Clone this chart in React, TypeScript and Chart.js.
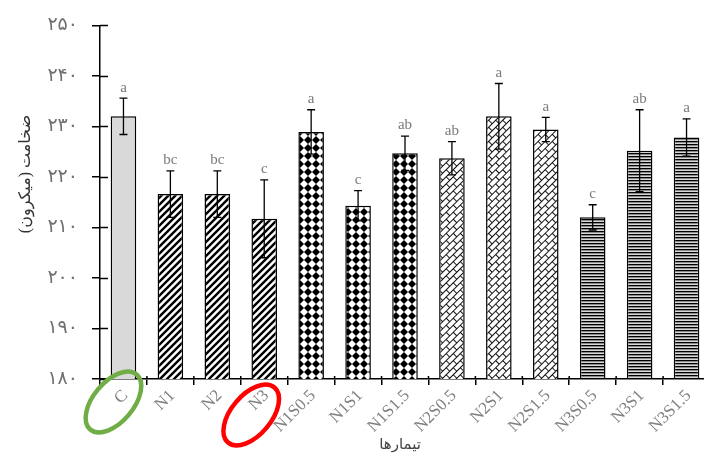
import React, { useEffect, useRef } from 'react';
import { Chart, registerables } from 'chart.js';

Chart.register(...registerables);

const categories = ['C', 'N1', 'N2', 'N3', 'N1S0.5', 'N1S1', 'N1S1.5', 'N2S0.5', 'N2S1', 'N2S1.5', 'N3S0.5', 'N3S1', 'N3S1.5'];
const means = [232.0, 216.6, 216.6, 211.7, 228.9, 214.3, 224.7, 223.7, 232.0, 229.4, 212.0, 225.2, 227.8];
const errors = [3.6, 4.6, 4.6, 7.7, 4.4, 3.0, 3.4, 3.3, 6.5, 2.4, 2.5, 8.1, 3.7];
const letters = ['a', 'bc', 'bc', 'c', 'a', 'c', 'ab', 'ab', 'a', 'a', 'c', 'ab', 'a'];
const patternGroup = [0, 1, 1, 1, 2, 2, 2, 3, 3, 3, 4, 4, 4];
const yMin = 180;
const yMax = 250;
const yStep = 10;
const yTitle = 'ضخامت (میکرون)';
const xTitle = 'تیمارها';
const circledCategories = [
  { index: 0, color: '#70ad47' },
  { index: 3, color: '#ff0000' },
];

const FONT = "'Liberation Serif', 'DejaVu Sans', serif";
const toPersian = (v: number | string) => String(v).replace(/\d/g, (d) => '۰۱۲۳۴۵۶۷۸۹'[Number(d)]);

function makeTile(w: number, h: number, draw: (c: CanvasRenderingContext2D) => void) {
  const cv = document.createElement('canvas');
  cv.width = w;
  cv.height = h;
  const c = cv.getContext('2d')!;
  c.fillStyle = '#ffffff';
  c.fillRect(0, 0, w, h);
  draw(c);
  return cv;
}

function buildFills(ctx: CanvasRenderingContext2D) {
  const solid: any = '#d9d9d9';
  const s = 7;
  const stripes = ctx.createPattern(
    makeTile(s, s, (c) => {
      c.strokeStyle = '#000';
      c.lineWidth = 2.4;
      c.beginPath();
      c.moveTo(-1, s + 1); c.lineTo(s + 1, -1);
      c.moveTo(-1, 1); c.lineTo(1, -1);
      c.moveTo(s - 1, s + 1); c.lineTo(s + 1, s - 1);
      c.stroke();
    }),
    'repeat'
  );
  const d = 8;
  const diamonds = ctx.createPattern(
    makeTile(d, d, (c) => {
      c.fillStyle = '#000';
      const r = 4.0;
      c.beginPath();
      c.moveTo(d / 2, d / 2 - r);
      c.lineTo(d / 2 + r, d / 2);
      c.lineTo(d / 2, d / 2 + r);
      c.lineTo(d / 2 - r, d / 2);
      c.closePath();
      c.fill();
    }),
    'repeat'
  );
  const bw = 10;
  const bh = 10;
  const bricks = ctx.createPattern(
    makeTile(bw, bh, (c) => {
      c.strokeStyle = '#111';
      c.lineWidth = 1;
      c.beginPath();
      c.moveTo(0, 0.5); c.lineTo(bw, 0.5);
      c.moveTo(0, 5.5); c.lineTo(bw, 5.5);
      c.moveTo(0.5, 0); c.lineTo(0.5, 5.5);
      c.moveTo(5.5, 5.5); c.lineTo(5.5, 10);
      c.stroke();
    }),
    'repeat'
  );
  if (bricks && (bricks as any).setTransform) {
    bricks.setTransform(new DOMMatrix().rotate(-45));
  }
  const lines = ctx.createPattern(
    makeTile(4, 3, (c) => {
      c.fillStyle = '#000';
      c.fillRect(0, 0, 4, 1);
      c.fillStyle = '#8a8a8a';
      c.fillRect(0, 1, 4, 1);
      c.fillStyle = '#d8d8d8';
      c.fillRect(0, 2, 4, 1);
    }),
    'repeat'
  );
  return [solid, stripes, diamonds, bricks, lines];
}

const decorPlugin = {
  id: 'decor',
  afterDatasetsDraw(chart: any) {
    const { ctx, chartArea } = chart;
    const x = chart.scales.x;
    const y = chart.scales.y;
    ctx.save();
    ctx.strokeStyle = '#000';
    ctx.lineWidth = 1.3;
    for (let i = 0; i < means.length; i++) {
      const px = x.getPixelForValue(i);
      const top = y.getPixelForValue(means[i] + errors[i]);
      const bot = y.getPixelForValue(means[i] - errors[i]);
      ctx.beginPath();
      ctx.moveTo(px, top); ctx.lineTo(px, bot);
      ctx.moveTo(px - 4, top); ctx.lineTo(px + 4, top);
      ctx.moveTo(px - 4, bot); ctx.lineTo(px + 4, bot);
      ctx.stroke();
      ctx.fillStyle = '#7a7a7a';
      ctx.font = `15px ${FONT}`;
      ctx.textAlign = 'center';
      ctx.textBaseline = 'bottom';
      ctx.fillText(letters[i], px, top - 3);
    }
    ctx.lineWidth = 1.5;
    ctx.beginPath();
    for (let v = yMin; v <= yMax; v += yStep) {
      const py = Math.round(y.getPixelForValue(v)) + 0.5;
      ctx.moveTo(chartArea.left, py);
      ctx.lineTo(chartArea.left + 8, py);
    }
    const cw = (x.right - x.left) / categories.length;
    for (let i = 1; i < categories.length; i++) {
      const bx = x.left + i * cw;
      ctx.moveTo(bx, chartArea.bottom);
      ctx.lineTo(bx, chartArea.bottom - 3);
    }
    ctx.stroke();
    ctx.restore();
  },
  afterDraw(chart: any) {
    const { ctx, chartArea } = chart;
    const x = chart.scales.x;
    const c45 = Math.SQRT1_2;
    ctx.save();
    ctx.font = `17px ${FONT}`;
    ctx.fillStyle = '#808080';
    ctx.textAlign = 'right';
    ctx.textBaseline = 'middle';
    categories.forEach((lab, i) => {
      const px = x.getPixelForValue(i);
      // rotation of -45 degrees expressed as an explicit matrix
      ctx.setTransform(c45, -c45, c45, c45, px + 2, chartArea.bottom + 14);
      ctx.fillText(lab, 0, 0);
    });
    ctx.setTransform(1, 0, 0, 1, 0, 0);
    ctx.restore();
    // y title
    ctx.save();
    ctx.fillStyle = '#333';
    ctx.font = `16px ${FONT}`;
    ctx.textAlign = 'center';
    ctx.textBaseline = 'middle';
    ctx.translate(26, 174);
    ctx.rotate(-Math.PI / 2);
    ctx.fillText(yTitle, 0, 0);
    ctx.restore();
    // x title
    ctx.save();
    ctx.fillStyle = '#444';
    ctx.font = `15px ${FONT}`;
    ctx.textAlign = 'center';
    ctx.textBaseline = 'middle';
    ctx.fillText(xTitle, 400, 445);
    const offs = [
      { dx: -10, y: 402 },
      { dx: -13, y: 415 },
    ];
    circledCategories.forEach((cc, k) => {
      const cx = x.getPixelForValue(cc.index) + offs[k].dx;
      ctx.strokeStyle = cc.color;
      ctx.lineWidth = 4.5;
      ctx.beginPath();
      ctx.ellipse(cx, offs[k].y, 36, 20, -0.87, 0, Math.PI * 2);
      ctx.stroke();
    });
    ctx.restore();
  },
};

export default function App() {
  const ref = useRef<HTMLCanvasElement | null>(null);
  useEffect(() => {
    const canvas = ref.current!;
    const ctx = canvas.getContext('2d')!;
    const fills = buildFills(ctx);
    const bg = patternGroup.map((g) => fills[g]);
    const chart = new Chart(canvas, {
      type: 'bar',
      data: {
        labels: categories,
        datasets: [
          {
            data: means,
            backgroundColor: bg,
            borderColor: '#000',
            borderWidth: 1.5,
            borderSkipped: 'start',
            barPercentage: 0.545,
            categoryPercentage: 1,
          },
        ],
      },
      options: {
        responsive: false,
        animation: false,
        layout: { padding: { top: 21, right: 2, left: 0, bottom: 0 } },
        plugins: { legend: { display: false }, tooltip: { enabled: false } },
        scales: {
          x: {
            afterFit: (s: any) => { s.height = 78; },
            grid: { drawOnChartArea: false, drawTicks: true, tickLength: 6, color: '#000', lineWidth: 1.5, offset: true },
            border: { display: true, color: '#000', width: 1.5 },
            ticks: { display: false, autoSkip: false },
          },
          y: {
            min: yMin,
            max: yMax,
            afterFit: (s: any) => { s.width = 100; },
            grid: { drawOnChartArea: false, drawTicks: true, tickLength: 8, color: '#000', lineWidth: 1.5 },
            border: { display: true, color: '#000', width: 1.5 },
            ticks: {
              stepSize: yStep,
              padding: 14,
              color: '#707070',
              font: { family: FONT, size: 19 },
              callback: (v: any) => toPersian(v),
            },
          },
        },
      },
      plugins: [decorPlugin],
    });
    return () => chart.destroy();
  }, []);
  return (
    <div style={{ position: 'fixed', left: 0, top: 0, width: 704, height: 457, overflow: 'hidden', background: '#fff' }}>
      <canvas ref={ref} width={712} height={457} style={{ display: 'block' }} />
    </div>
  );
}
